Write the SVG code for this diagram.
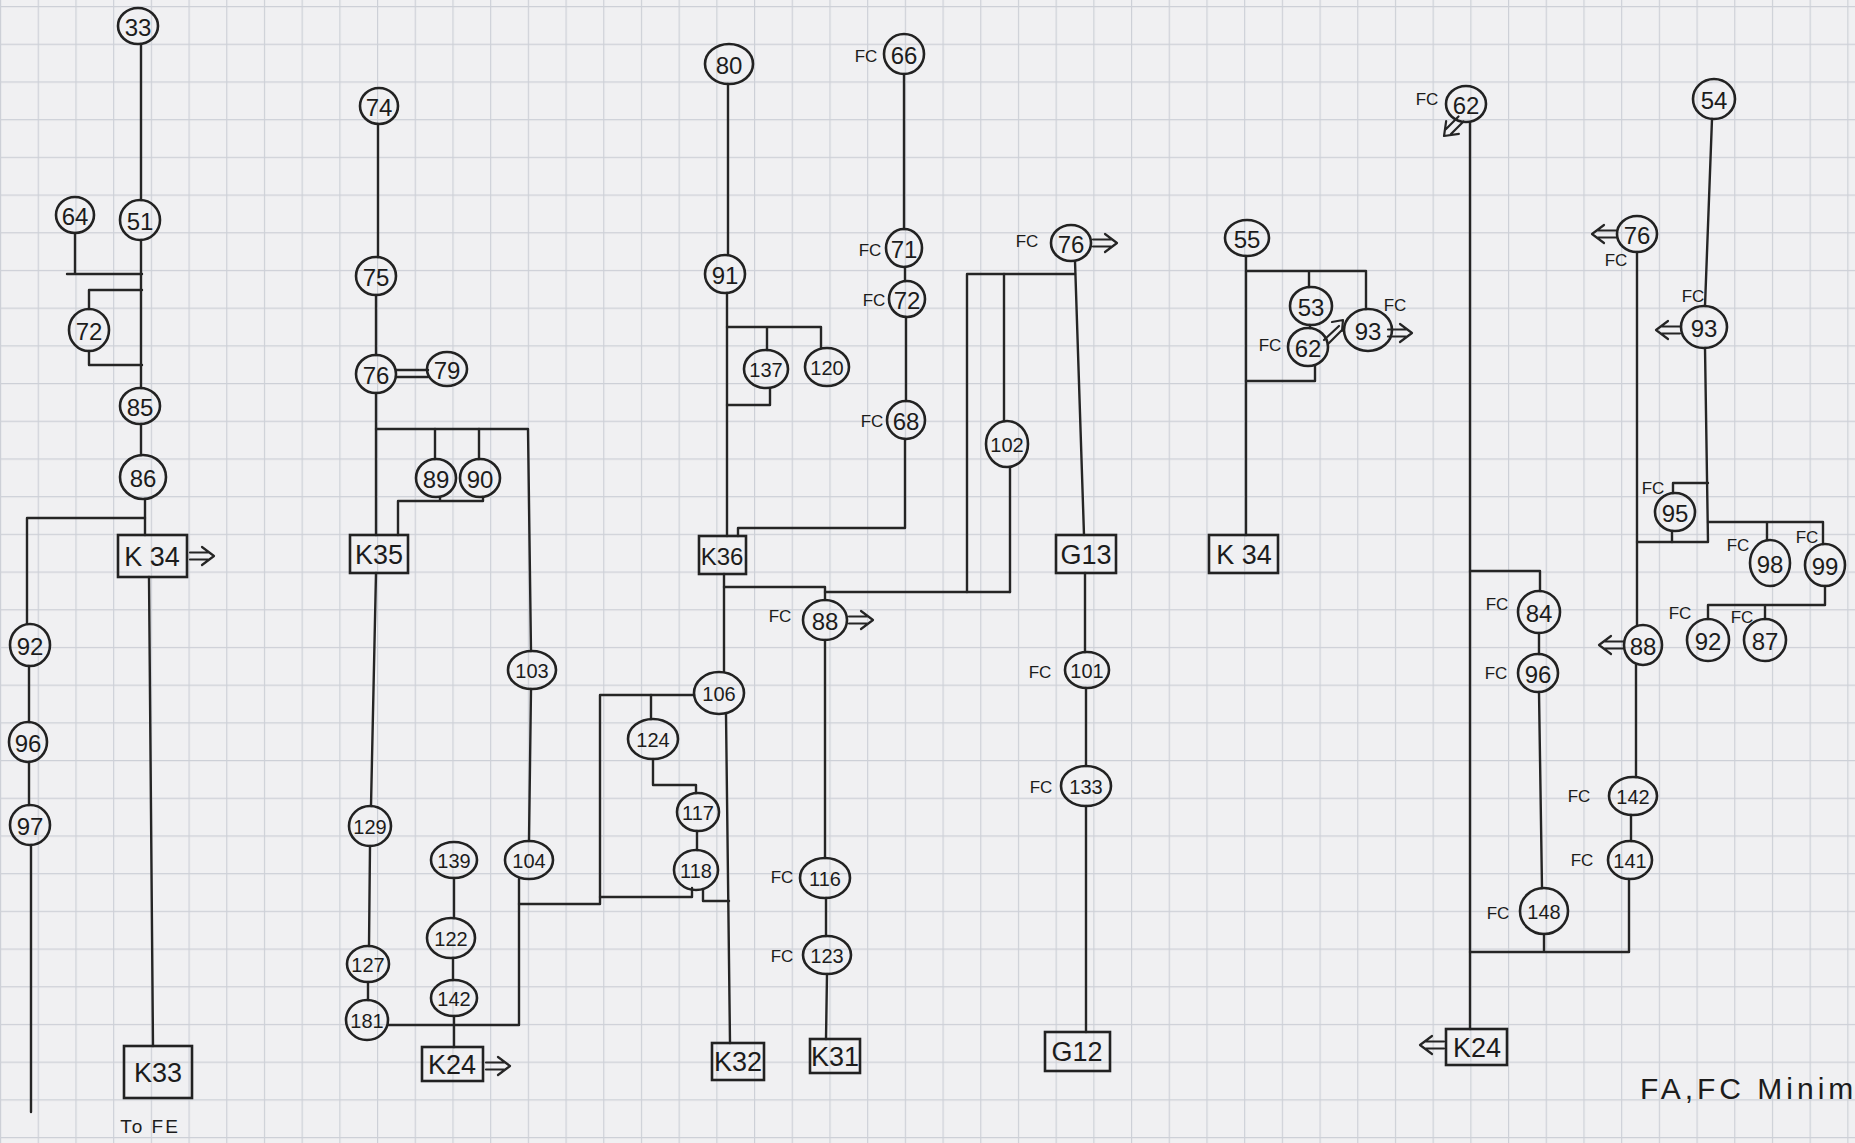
<svg xmlns="http://www.w3.org/2000/svg" xmlns:xlink="http://www.w3.org/1999/xlink" width="1855" height="1143" viewBox="0 0 1855 1143">
<style>
.ln{fill:none;stroke:#252525;stroke-width:2.4;stroke-linecap:round;stroke-linejoin:round}
.nd ellipse,.nd rect{fill:none;stroke:#222;stroke-width:2.6}
.t{font-family:'Liberation Sans',Arial,sans-serif;font-size:24px;text-anchor:middle;dominant-baseline:central;fill:#1c1c1c}
.t3{font-size:20px}
.bx{font-size:27px}
.fc{font-family:'Liberation Sans',Arial,sans-serif;font-size:17px;text-anchor:middle;dominant-baseline:central;fill:#1c1c1c}
.ar{fill:none;stroke:#252525;stroke-width:2.2;stroke-linecap:round;stroke-linejoin:round}
</style>
<defs>
<pattern id="grid" width="37.7" height="37.7" patternUnits="userSpaceOnUse" x="0" y="6">
<path d="M0,0.5 H37.7 M0.5,0 V37.7" fill="none" stroke="#cdd0d7" stroke-width="1.4"/>
</pattern>
<path id="arrR" class="ar" d="M0,-3.5 H18 M0,3.5 H18 M12,-9 L24,0 L12,9"/>
<path id="arrL" class="ar" d="M0,-3.5 H-18 M0,3.5 H-18 M-12,-9 L-24,0 L-12,9"/>
</defs>
<rect width="1855" height="1143" fill="#f0f0f2"/>
<rect width="1855" height="1143" fill="url(#grid)"/>

<g id="connectors">
<!-- column 1 -->
<path class="ln" d="M141,44 V200"/>
<path class="ln" d="M75,233 V274 M67,274 H142"/>
<path class="ln" d="M141,240 V388"/>
<path class="ln" d="M142,290 H89 V309 M89,351 V365 H142"/>
<path class="ln" d="M141,424 V455"/>
<path class="ln" d="M145,499 V535"/>
<path class="ln" d="M145,518 H27 V624"/>
<path class="ln" d="M29,666 V722"/>
<path class="ln" d="M29,762 V805"/>
<path class="ln" d="M31,845 V1112"/>
<path class="ln" d="M149,577 L153,1046"/>
<!-- column 2 -->
<path class="ln" d="M378,124 V257"/>
<path class="ln" d="M376,295 V355"/>
<path class="ln" d="M396,370 H428 M396,377 H428"/>
<path class="ln" d="M376,393 V535"/>
<path class="ln" d="M376,429 H528 L531,651"/>
<path class="ln" d="M435,429 V459 M479,429 V459"/>
<path class="ln" d="M440,497 V501 M483,497 V501 H398 V535"/>
<path class="ln" d="M531,689 L529,841"/>
<path class="ln" d="M376,573 L371,806"/>
<path class="ln" d="M370,846 L369,946"/>
<path class="ln" d="M368,982 V1000"/>
<path class="ln" d="M388,1025 H519 V879"/>
<path class="ln" d="M454,878 V918"/>
<path class="ln" d="M453,958 V980"/>
<path class="ln" d="M454,1016 V1047"/>
<path class="ln" d="M519,904 H600 V695 H694"/>
<path class="ln" d="M692,888 V897 H600"/>
<path class="ln" d="M703,889 V901 H729"/>
<path class="ln" d="M651,695 V719"/>
<path class="ln" d="M653,759 V785 H696 V793"/>
<path class="ln" d="M697,831 V850"/>
<!-- column 3 -->
<path class="ln" d="M728,84 V255"/>
<path class="ln" d="M727,293 V536"/>
<path class="ln" d="M727,327 H821 M767,327 V350 M821,327 V348"/>
<path class="ln" d="M770,388 V405 H727"/>
<path class="ln" d="M738,536 V528 H905 V439"/>
<path class="ln" d="M904,74 V229"/>
<path class="ln" d="M905,267 V281"/>
<path class="ln" d="M906,317 V401"/>
<path class="ln" d="M724,574 V672"/>
<path class="ln" d="M724,587 H825 V600"/>
<path class="ln" d="M825,592 H1010"/>
<path class="ln" d="M967,592 V274 H1075"/>
<path class="ln" d="M1010,592 V467"/>
<path class="ln" d="M1004,421 V274"/>
<path class="ln" d="M1075,261 L1084,535"/>
<path class="ln" d="M726,714 L730,1043"/>
<path class="ln" d="M825,640 V858"/>
<path class="ln" d="M826,898 V936"/>
<path class="ln" d="M827,974 L826,1039"/>
<path class="ln" d="M1085,573 V652"/>
<path class="ln" d="M1086,688 V766"/>
<path class="ln" d="M1086,806 V1032"/>
<!-- column 4 -->
<path class="ln" d="M1246,256 V535"/>
<path class="ln" d="M1246,271 H1366 M1309,271 V287 M1366,271 V309"/>
<path class="ln" d="M1310,325 V328"/>
<path class="ln" d="M1315,366 V381 H1246"/>
<!-- column 5 -->
<path class="ln" d="M1470,122 V1029"/>
<path class="ln" d="M1470,571 H1540 V591"/>
<path class="ln" d="M1539,633 V654"/>
<path class="ln" d="M1539,692 L1542,888"/>
<path class="ln" d="M1544,934 V952 M1470,952 H1629 V879"/>
<path class="ln" d="M1631,841 V815"/>
<path class="ln" d="M1636,777 V665"/>
<path class="ln" d="M1637,625 V252"/>
<path class="ln" d="M1712,119 L1705,306"/>
<path class="ln" d="M1705,348 L1708,542 H1637"/>
<path class="ln" d="M1708,483 H1673 V493"/>
<path class="ln" d="M1672,531 V542"/>
<path class="ln" d="M1708,522 H1823 M1767,522 V540 M1823,522 V544"/>
<path class="ln" d="M1825,586 V605 H1708 V619 M1765,605 V619"/>
</g>

<!-- column 1 nodes -->
<g id="n33" class="nd"><ellipse cx="138" cy="26" rx="20" ry="18"/><text class="t" x="138" y="27">33</text></g>
<g id="n51" class="nd"><ellipse cx="140" cy="220" rx="20" ry="20"/><text class="t" x="140" y="221">51</text></g>
<g id="n64" class="nd"><ellipse cx="75" cy="215" rx="19" ry="18"/><text class="t" x="75" y="216">64</text></g>
<g id="n72a" class="nd"><ellipse cx="89" cy="330" rx="20" ry="21"/><text class="t" x="89" y="331">72</text></g>
<g id="n85" class="nd"><ellipse cx="140" cy="406" rx="20" ry="18"/><text class="t" x="140" y="407">85</text></g>
<g id="n86" class="nd"><ellipse cx="143" cy="477" rx="23" ry="22"/><text class="t" x="143" y="478">86</text></g>
<g id="k34a" class="nd"><rect x="118" y="535" width="69" height="42"/><text class="t bx" x="152" y="557">K 34</text><use href="#arrR" x="190" y="556"/></g>
<g id="k33" class="nd"><rect x="124" y="1046" width="68" height="52"/><text class="t bx" x="158" y="1073">K33</text></g>
<g id="tofe"><text class="fc" x="150" y="1126" style="font-size:19px;letter-spacing:2px">To FE</text></g>
<g id="n92a" class="nd"><ellipse cx="30" cy="645" rx="20" ry="21"/><text class="t" x="30" y="646">92</text></g>
<g id="n96a" class="nd"><ellipse cx="28" cy="742" rx="19" ry="20"/><text class="t" x="28" y="743">96</text></g>
<g id="n97a" class="nd"><ellipse cx="30" cy="825" rx="20" ry="20"/><text class="t" x="30" y="826">97</text></g>

<!-- column 2 nodes -->
<g id="n74" class="nd"><ellipse cx="379" cy="106" rx="19" ry="18"/><text class="t" x="379" y="107">74</text></g>
<g id="n75" class="nd"><ellipse cx="376" cy="276" rx="20" ry="19"/><text class="t" x="376" y="277">75</text></g>
<g id="n76a" class="nd"><ellipse cx="376" cy="374" rx="20" ry="19"/><text class="t" x="376" y="375">76</text></g>
<g id="n79" class="nd"><ellipse cx="447" cy="369" rx="20" ry="17"/><text class="t" x="447" y="370">79</text></g>
<g id="n89" class="nd"><ellipse cx="436" cy="478" rx="20" ry="19"/><text class="t" x="436" y="479">89</text></g>
<g id="n90" class="nd"><ellipse cx="480" cy="478" rx="20" ry="19"/><text class="t" x="480" y="479">90</text></g>
<g id="k35" class="nd"><rect x="350" y="535" width="58" height="38"/><text class="t bx" x="379" y="555">K35</text></g>
<g id="n103" class="nd"><ellipse cx="532" cy="670" rx="24" ry="19"/><text class="t t3" x="532" y="671">103</text></g>
<g id="n104" class="nd"><ellipse cx="529" cy="860" rx="24" ry="19"/><text class="t t3" x="529" y="861">104</text></g>
<g id="n129" class="nd"><ellipse cx="370" cy="826" rx="21" ry="20"/><text class="t t3" x="370" y="827">129</text></g>
<g id="n127" class="nd"><ellipse cx="368" cy="964" rx="21" ry="18"/><text class="t t3" x="368" y="965">127</text></g>
<g id="n181" class="nd"><ellipse cx="367" cy="1020" rx="21" ry="20"/><text class="t t3" x="367" y="1021">181</text></g>
<g id="n139" class="nd"><ellipse cx="454" cy="860" rx="23" ry="18"/><text class="t t3" x="454" y="861">139</text></g>
<g id="n122" class="nd"><ellipse cx="451" cy="938" rx="24" ry="20"/><text class="t t3" x="451" y="939">122</text></g>
<g id="n142a" class="nd"><ellipse cx="454" cy="998" rx="23" ry="18"/><text class="t t3" x="454" y="999">142</text></g>
<g id="k24a" class="nd"><rect x="422" y="1047" width="61" height="34"/><text class="t bx" x="452" y="1065">K24</text><use href="#arrR" x="486" y="1066"/></g>

<!-- column 3 nodes -->
<g id="n80" class="nd"><ellipse cx="729" cy="64" rx="24" ry="20"/><text class="t" x="729" y="65">80</text></g>
<g id="n91" class="nd"><ellipse cx="725" cy="274" rx="20" ry="19"/><text class="t" x="725" y="275">91</text></g>
<g id="n137" class="nd"><ellipse cx="766" cy="369" rx="22" ry="19"/><text class="t t3" x="766" y="370">137</text></g>
<g id="n120" class="nd"><ellipse cx="827" cy="367" rx="22" ry="19"/><text class="t t3" x="827" y="368">120</text></g>
<g id="k36" class="nd"><rect x="699" y="536" width="47" height="38"/><text class="t bx" x="722" y="556" style="font-size:24px">K36</text></g>
<g id="n66" class="nd"><ellipse cx="904" cy="54" rx="20" ry="20"/><text class="t" x="904" y="55">66</text><text class="fc" x="866" y="56">FC</text></g>
<g id="n71" class="nd"><ellipse cx="904" cy="248" rx="18" ry="19"/><text class="t" x="904" y="249">71</text><text class="fc" x="870" y="250">FC</text></g>
<g id="n72b" class="nd"><ellipse cx="907" cy="299" rx="18" ry="18"/><text class="t" x="907" y="300">72</text><text class="fc" x="874" y="300">FC</text></g>
<g id="n68" class="nd"><ellipse cx="906" cy="420" rx="19" ry="19"/><text class="t" x="906" y="421">68</text><text class="fc" x="872" y="421">FC</text></g>
<g id="n106" class="nd"><ellipse cx="719" cy="693" rx="25" ry="21"/><text class="t t3" x="719" y="694">106</text></g>
<g id="n124" class="nd"><ellipse cx="653" cy="739" rx="25" ry="20"/><text class="t t3" x="653" y="740">124</text></g>
<g id="n117" class="nd"><ellipse cx="698" cy="812" rx="21" ry="19"/><text class="t t3" x="698" y="813">117</text></g>
<g id="n118" class="nd"><ellipse cx="696" cy="870" rx="22" ry="20"/><text class="t t3" x="696" y="871">118</text></g>
<g id="k32" class="nd"><rect x="712" y="1043" width="52" height="37"/><text class="t bx" x="738" y="1062">K32</text></g>
<g id="n88a" class="nd"><ellipse cx="825" cy="620" rx="22" ry="20"/><text class="t" x="825" y="621">88</text><text class="fc" x="780" y="616">FC</text><use href="#arrR" x="849" y="620"/></g>
<g id="n116" class="nd"><ellipse cx="825" cy="878" rx="25" ry="20"/><text class="t t3" x="825" y="879">116</text><text class="fc" x="782" y="877">FC</text></g>
<g id="n123" class="nd"><ellipse cx="827" cy="955" rx="24" ry="19"/><text class="t t3" x="827" y="956">123</text><text class="fc" x="782" y="956">FC</text></g>
<g id="k31" class="nd"><rect x="810" y="1039" width="50" height="34"/><text class="t bx" x="835" y="1057">K31</text></g>
<g id="n102" class="nd"><ellipse cx="1007" cy="444" rx="21" ry="23"/><text class="t t3" x="1007" y="445">102</text></g>
<g id="n76b" class="nd"><ellipse cx="1071" cy="243" rx="20" ry="18"/><text class="t" x="1071" y="244">76</text><text class="fc" x="1027" y="241">FC</text><use href="#arrR" x="1093" y="243"/></g>
<g id="g13" class="nd"><rect x="1056" y="535" width="60" height="38"/><text class="t bx" x="1086" y="555">G13</text></g>
<g id="n101" class="nd"><ellipse cx="1087" cy="670" rx="22" ry="18"/><text class="t t3" x="1087" y="671">101</text><text class="fc" x="1040" y="672">FC</text></g>
<g id="n133" class="nd"><ellipse cx="1086" cy="786" rx="25" ry="20"/><text class="t t3" x="1086" y="787">133</text><text class="fc" x="1041" y="787">FC</text></g>
<g id="g12" class="nd"><rect x="1045" y="1032" width="65" height="39"/><text class="t bx" x="1077" y="1052">G12</text></g>

<!-- column 4 nodes -->
<g id="n55" class="nd"><ellipse cx="1247" cy="238" rx="22" ry="18"/><text class="t" x="1247" y="239">55</text></g>
<g id="n53" class="nd"><ellipse cx="1311" cy="306" rx="21" ry="19"/><text class="t" x="1311" y="307">53</text></g>
<g id="n62a" class="nd"><ellipse cx="1308" cy="347" rx="20" ry="19"/><text class="t" x="1308" y="348">62</text><text class="fc" x="1270" y="345">FC</text><path class="ar" d="M1324,340 L1339,326 M1328,344 L1342,330 M1332,322 L1343,320 L1342,331"/></g>
<g id="n93a" class="nd"><ellipse cx="1368" cy="330" rx="24" ry="21"/><text class="t" x="1368" y="331">93</text><text class="fc" x="1395" y="305">FC</text><use href="#arrR" x="1388" y="333"/></g>
<g id="k34b" class="nd"><rect x="1209" y="535" width="69" height="38"/><text class="t bx" x="1244" y="555">K 34</text></g>

<!-- column 5 nodes -->
<g id="n62b" class="nd"><ellipse cx="1466" cy="104" rx="20" ry="18"/><text class="t" x="1466" y="105">62</text><text class="fc" x="1427" y="99">FC</text><use href="#arrR" transform="translate(1461,119) rotate(135)"/></g>
<g id="n84" class="nd"><ellipse cx="1539" cy="612" rx="21" ry="21"/><text class="t" x="1539" y="613">84</text><text class="fc" x="1497" y="604">FC</text></g>
<g id="n96b" class="nd"><ellipse cx="1538" cy="673" rx="20" ry="19"/><text class="t" x="1538" y="674">96</text><text class="fc" x="1496" y="673">FC</text></g>
<g id="n148" class="nd"><ellipse cx="1544" cy="911" rx="24" ry="23"/><text class="t t3" x="1544" y="912">148</text><text class="fc" x="1498" y="913">FC</text></g>
<g id="n142b" class="nd"><ellipse cx="1633" cy="796" rx="24" ry="19"/><text class="t t3" x="1633" y="797">142</text><text class="fc" x="1579" y="796">FC</text></g>
<g id="n141" class="nd"><ellipse cx="1630" cy="860" rx="22" ry="19"/><text class="t t3" x="1630" y="861">141</text><text class="fc" x="1582" y="860">FC</text></g>
<g id="n88b" class="nd"><ellipse cx="1643" cy="645" rx="19" ry="20"/><text class="t" x="1643" y="646">88</text><use href="#arrL" x="1623" y="645"/></g>
<g id="n76c" class="nd"><ellipse cx="1637" cy="234" rx="20" ry="18"/><text class="t" x="1637" y="235">76</text><text class="fc" x="1616" y="260">FC</text><use href="#arrL" x="1616" y="234"/></g>
<g id="k24b" class="nd"><rect x="1446" y="1029" width="61" height="36"/><text class="t bx" x="1477" y="1048">K24</text><use href="#arrL" x="1444" y="1045"/></g>
<g id="n54" class="nd"><ellipse cx="1714" cy="99" rx="21" ry="20"/><text class="t" x="1714" y="100">54</text></g>
<g id="n93b" class="nd"><ellipse cx="1704" cy="327" rx="23" ry="21"/><text class="t" x="1704" y="328">93</text><text class="fc" x="1693" y="296">FC</text><use href="#arrL" x="1680" y="330"/></g>
<g id="n95" class="nd"><ellipse cx="1675" cy="512" rx="20" ry="19"/><text class="t" x="1675" y="513">95</text><text class="fc" x="1653" y="488">FC</text></g>
<g id="n98" class="nd"><ellipse cx="1770" cy="563" rx="20" ry="23"/><text class="t" x="1770" y="564">98</text><text class="fc" x="1738" y="545">FC</text></g>
<g id="n99" class="nd"><ellipse cx="1825" cy="565" rx="20" ry="21"/><text class="t" x="1825" y="566">99</text><text class="fc" x="1807" y="537">FC</text></g>
<g id="n92b" class="nd"><ellipse cx="1708" cy="640" rx="21" ry="21"/><text class="t" x="1708" y="641">92</text><text class="fc" x="1680" y="613">FC</text></g>
<g id="n87" class="nd"><ellipse cx="1765" cy="640" rx="21" ry="21"/><text class="t" x="1765" y="641">87</text><text class="fc" x="1742" y="617">FC</text></g>

<g id="title"><text x="1640" y="1099" style="font-family:'Liberation Sans',Arial,sans-serif;font-size:30px;letter-spacing:4px;fill:#1c1c1c">FA,FC Minim</text></g>
</svg>
